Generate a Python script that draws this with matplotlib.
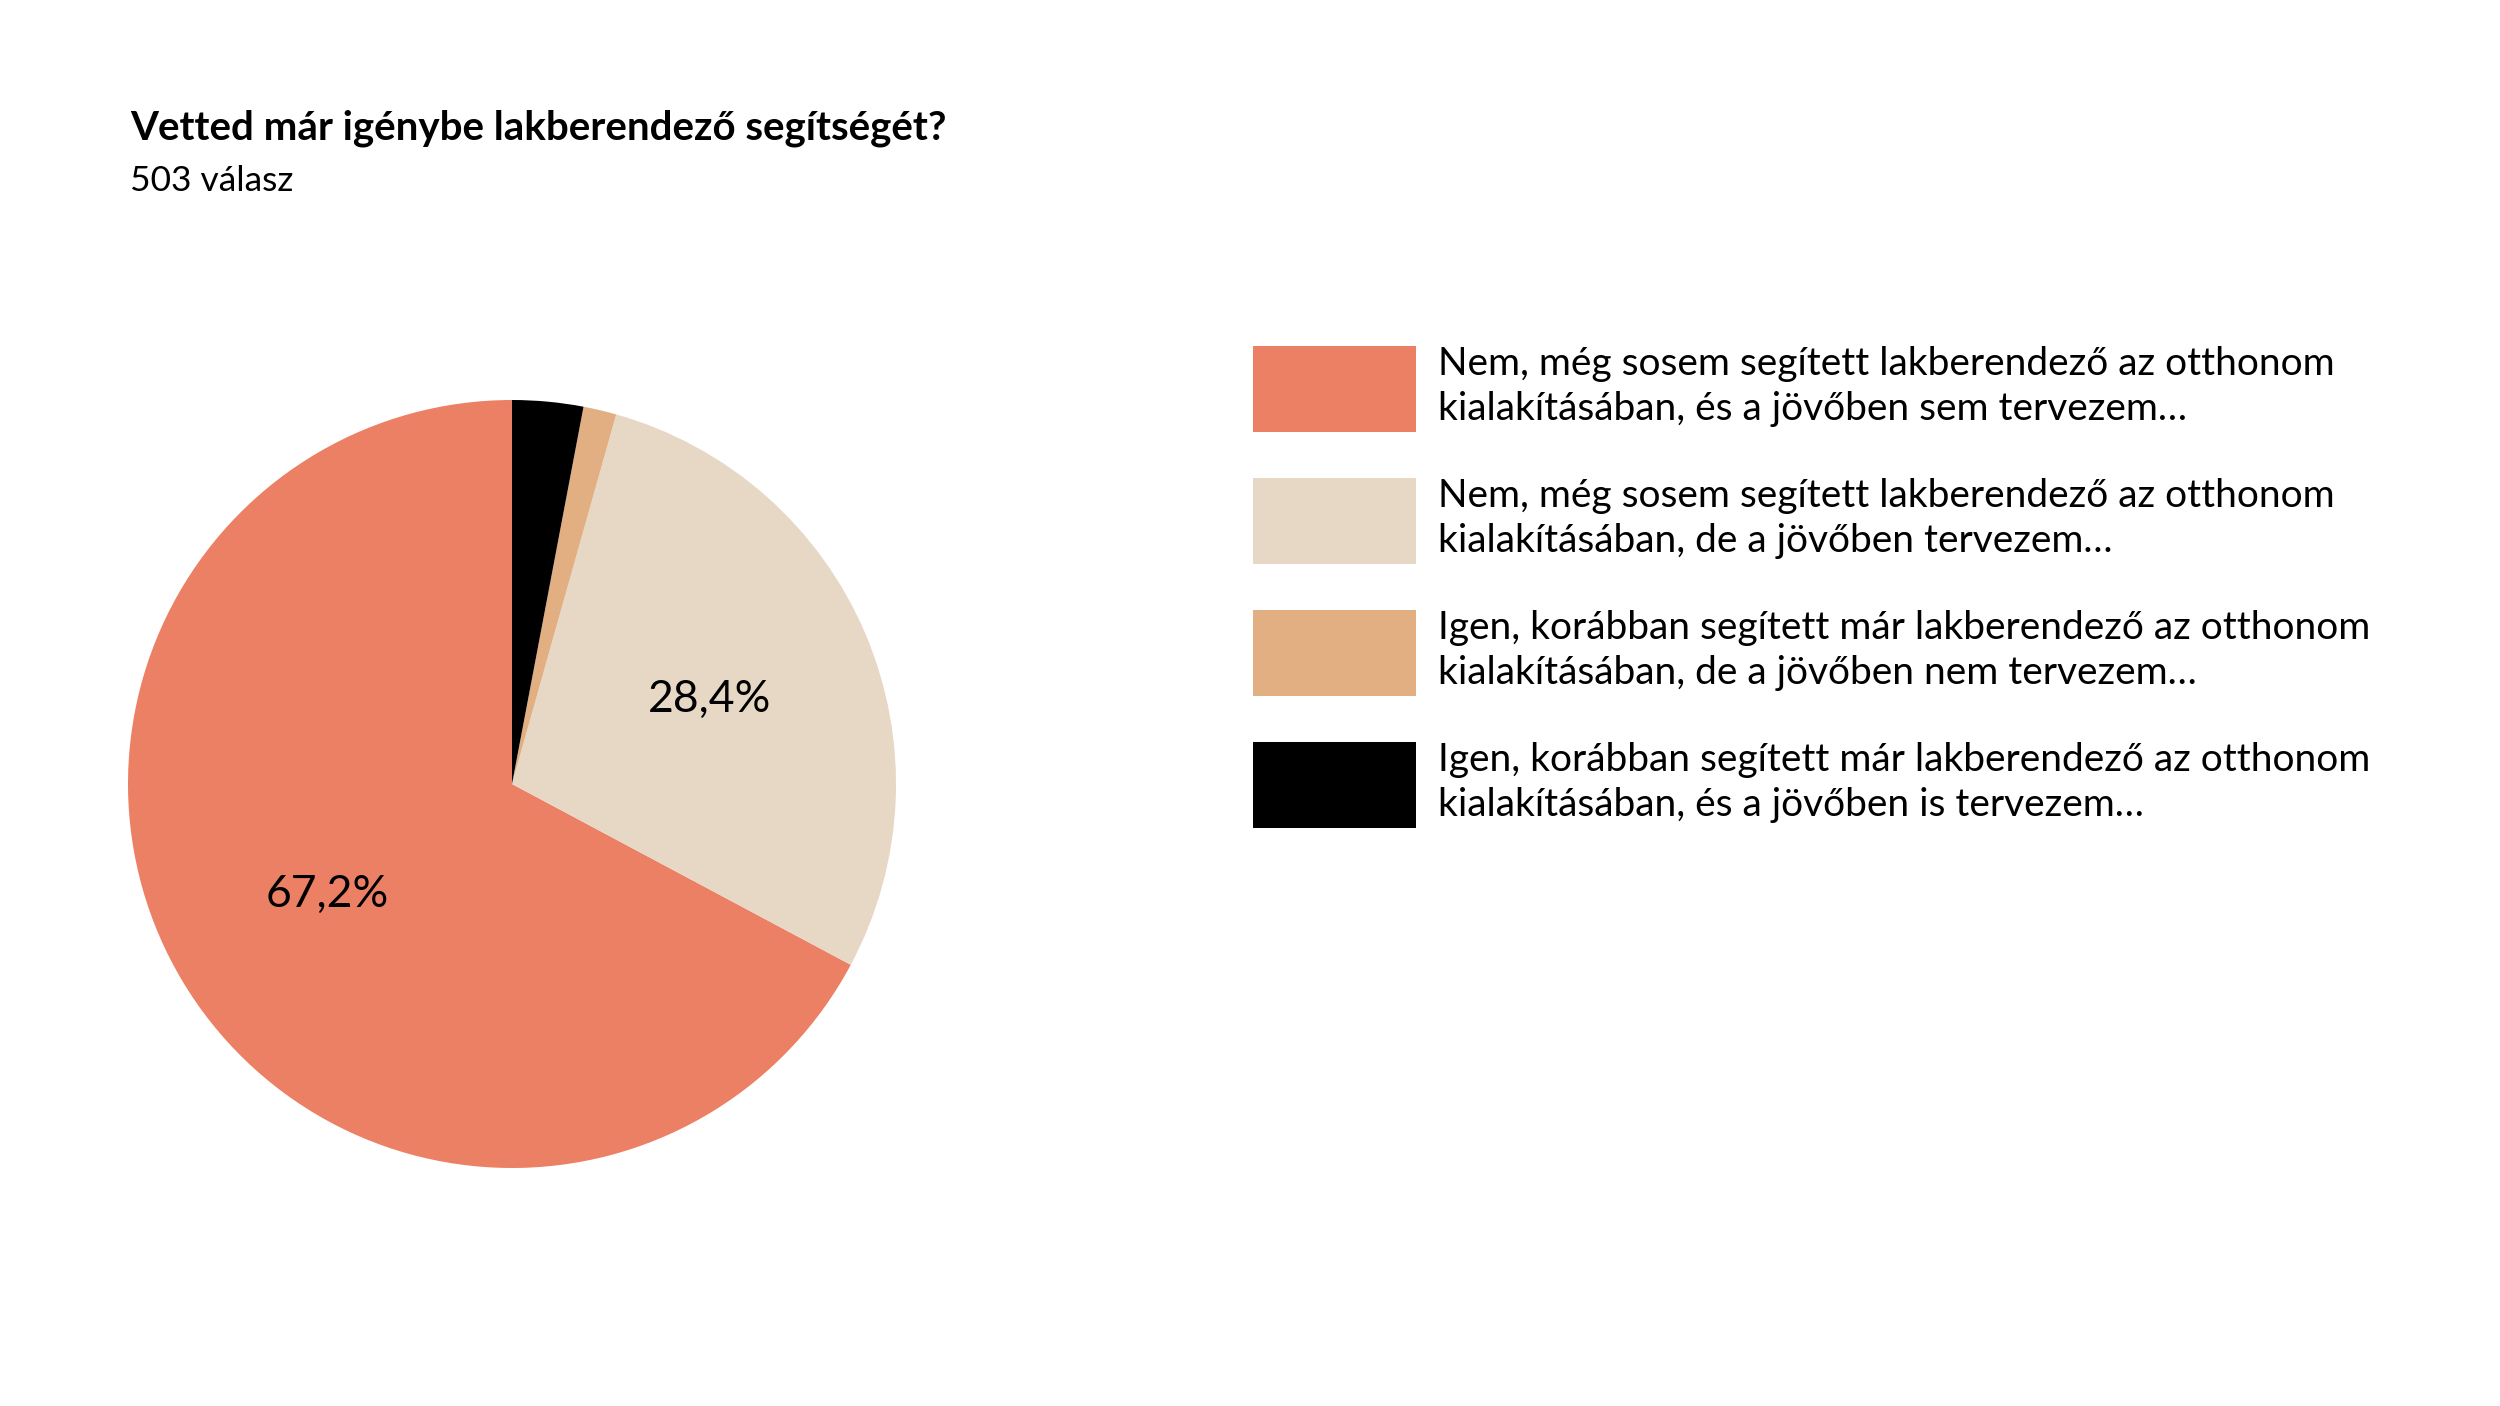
import matplotlib
matplotlib.use("Agg")
import matplotlib.pyplot as plt

plt.rcParams['font.family'] = ['Lato', 'DejaVu Sans']

title = "Vetted már igénybe lakberendező segítségét?"
subtitle = "503 válasz"
categories = [
    "Nem, még sosem segített lakberendező az otthonom\nkialakításában, és a jövőben sem tervezem…",
    "Nem, még sosem segített lakberendező az otthonom\nkialakításában, de a jövőben tervezem…",
    "Igen, korábban segített már lakberendező az otthonom\nkialakításában, de a jövőben nem tervezem…",
    "Igen, korábban segített már lakberendező az otthonom\nkialakításában, és a jövőben is tervezem…",
]
counts = [338, 143, 7, 15]
colors = ["#EC8065", "#E7D7C5", "#E2AF82", "#000000"]

fig = plt.figure(figsize=(25, 14.06), dpi=100)
fig.patch.set_facecolor("white")

# pie axes: center (512, 784) px, radius 384 px
W, H = 2500, 1406
cx, cy, r = 512, 784, 384
ax = fig.add_axes([(cx - r) / W, 1 - (cy + r) / H, 2 * r / W, 2 * r / H])

def fmt(p):
    return ("%.1f%%" % p).replace(".", ",") if p >= 5 else ""

wedges, texts, autotexts = ax.pie(
    counts, colors=colors, startangle=90, counterclock=True,
    autopct=fmt, pctdistance=0.56, radius=1.0,
    wedgeprops=dict(linewidth=0),
    textprops=dict(fontsize=32, color="black"))
ax.set_xlim(-1, 1)
ax.set_ylim(-1, 1)
ax.set_aspect("equal")

fig.text(130 / W, 1 - 128 / H, title, fontsize=29, fontweight="bold",
         va="center", ha="left")
fig.text(130 / W, 1 - 181 / H, subtitle, fontsize=25.5, va="center", ha="left")

fs = 28
px = fs * 100 / 72
target = 86 / px
hh = (target - 0.245) / 0.65
leg = fig.legend(wedges, categories, loc="upper left",
                 bbox_to_anchor=(1253 / W, 1 - 346 / H),
                 frameon=False, fontsize=fs,
                 handlelength=163 / px, handleheight=hh,
                 handletextpad=22 / px, labelspacing=(131.5 - 86) / px,
                 borderpad=0, borderaxespad=0)
for t in leg.get_texts():
    t.set_linespacing(1.3)

fig.savefig("out.png", dpi=100, facecolor="white")
